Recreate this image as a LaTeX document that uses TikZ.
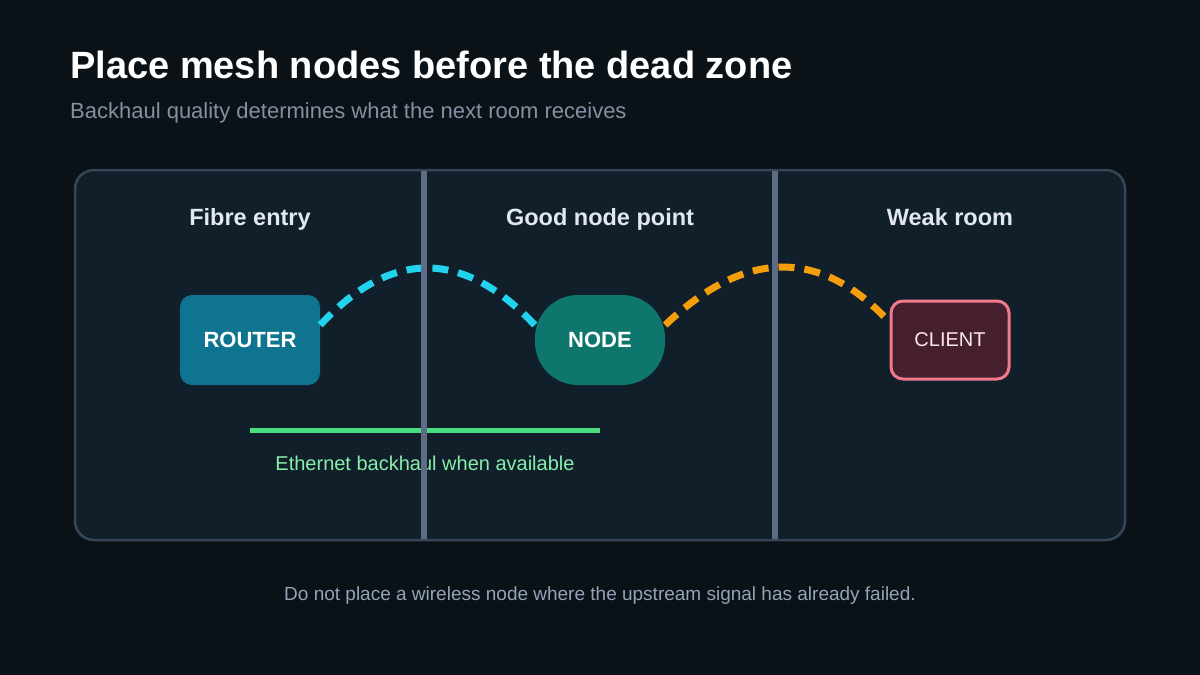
\documentclass[tikz,border=0pt]{standalone}
\usepackage{fontspec}
\setmainfont{Liberation Sans}
\usetikzlibrary{calc}
\definecolor{bgc}{HTML}{0A1117}
\definecolor{panelc}{HTML}{111F2A}
\definecolor{panelb}{HTML}{364656}
\definecolor{sepc}{HTML}{5F6C86}
\definecolor{headc}{HTML}{E2E8F0}
\definecolor{subc}{HTML}{8391A2}
\definecolor{routerc}{HTML}{0E7490}
\definecolor{nodec}{HTML}{0F766E}
\definecolor{clientf}{HTML}{451F2D}
\definecolor{clientb}{HTML}{F07A8A}
\definecolor{clientt}{HTML}{FCE7EB}
\definecolor{cyanc}{HTML}{22D3EE}
\definecolor{orangec}{HTML}{F59E0B}
\definecolor{greenc}{HTML}{4ADE80}
\definecolor{greent}{HTML}{86EFAC}
\definecolor{footc}{HTML}{94A3B8}
\tikzset{
  colhead/.style={font=\fontsize{23.5}{28}\selectfont\bfseries, text=headc, anchor=base},
  boxtext/.style={font=\fontsize{22}{26}\selectfont\bfseries, text=white},
  wifi/.style={line width=7pt, dash pattern=on 16pt off 10pt},
  sepline/.style={sepc, line width=6pt},
}
\begin{document}
\begin{tikzpicture}[x=1pt,y=-1pt]
\useasboundingbox[fill=bgc] (0,0) rectangle (1200,675);
% title
\node[anchor=base west, inner sep=0, text=white, font=\fontsize{38}{44}\selectfont\bfseries] (title) at (70,78) {Place mesh nodes before the dead zone};
\node[anchor=base west, inner sep=0, text=subc, font=\fontsize{22}{26}\selectfont] (subtitle) at (70,118) {Backhaul quality determines what the next room receives};
% panel
\node[draw=panelb, line width=2.5pt, fill=panelc, rounded corners=19pt, minimum width=1050pt, minimum height=370pt, inner sep=0] (panel) at (600,355) {};
% column headers
\node[colhead] (h1) at (250,225) {Fibre entry};
\node[colhead] (h2) at (600,225) {Good node point};
\node[colhead] (h3) at (950,225) {Weak room};
% boxes
\node[boxtext, fill=routerc, rounded corners=12pt, minimum width=140pt, minimum height=90pt, inner sep=0] (router) at (250,340) {\raisebox{-1.5pt}{ROUTER}};
\node[boxtext, fill=nodec, rounded corners=43pt, minimum width=130pt, minimum height=90pt, inner sep=0] (mesh) at (600,340) {\raisebox{-1.5pt}{NODE}};
\node[draw=clientb, line width=3pt, fill=clientf, rounded corners=12pt, minimum width=118pt, minimum height=78pt, inner sep=0, text=clientt, font=\fontsize{20}{24}\selectfont] (client) at (950,340) {\raisebox{-1pt}{CLIENT}};
% ethernet
\coordinate (e1) at (250,430);
\coordinate (e2) at (600,430);
\draw[greenc, line width=5pt] (e1) -- (e2);
\node[text=greent, font=\fontsize{20}{24}\selectfont, anchor=base] (eth) at (425,470) {Ethernet backhaul when available};
% wireless arcs
\draw[wifi, cyanc] ([yshift=15pt]router.east) .. controls (391,249) and (463,249) .. ([yshift=15pt]mesh.west);
\draw[wifi, orangec] ([yshift=15pt]mesh.east) .. controls (744,250) and (818,248) .. ([xshift=-4pt,yshift=22pt]client.west);
% separators
\coordinate (s1t) at (424,171);
\coordinate (s1b) at (424,539);
\coordinate (s2t) at (775,171);
\coordinate (s2b) at (775,539);
\draw[sepline] (s1t) -- (s1b);
\draw[sepline] (s2t) -- (s2b);
% footer
\node[text=footc, font=\fontsize{19}{22}\selectfont, anchor=base] (foot) at (600,600) {Do not place a wireless node where the upstream signal has already failed.};
\end{tikzpicture}
\end{document}
